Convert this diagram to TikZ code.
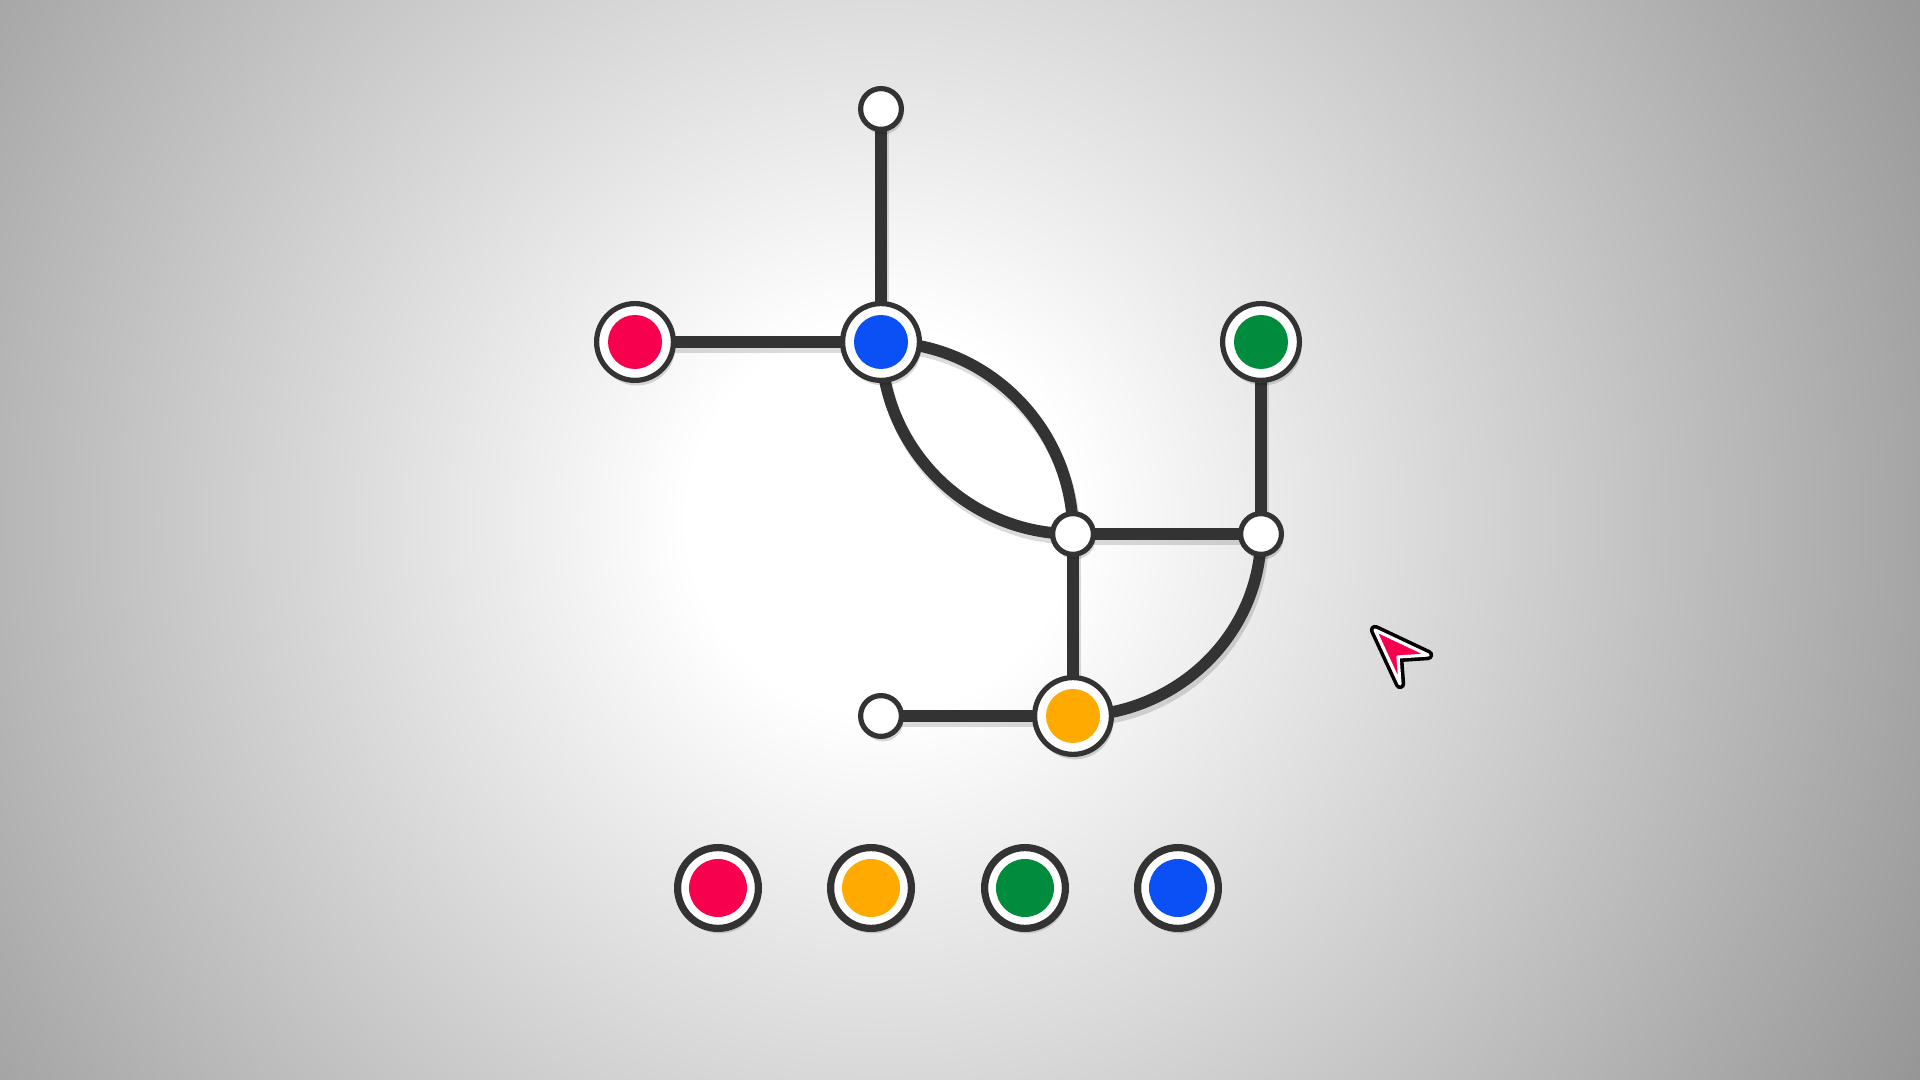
\documentclass[tikz,border=0pt]{standalone}
\usetikzlibrary{shadows}
\pgfdeclarelayer{bg}
\pgfdeclarelayer{shadowl}
\pgfdeclarelayer{edgel}
\pgfsetlayers{bg,shadowl,edgel,main}
\definecolor{ink}{HTML}{333333}
\definecolor{bgedge}{HTML}{969696}
\definecolor{mred}{RGB}{247,0,77}
\definecolor{mblue}{HTML}{0A50F5}
\definecolor{mgreen}{HTML}{008C3C}
\definecolor{morange}{HTML}{FFAA00}
\pgfdeclareradialshading{vign}{\pgfpoint{0bp}{0bp}}{color(0bp)=(white); color(4bp)=(white); color(24.6bp)=(bgedge); color(50bp)=(bgedge)}
\tikzset{
  shad/.style={drop shadow={shadow xshift=1pt, shadow yshift=-2.5pt, fill=black, opacity=0.15}},
  stn/.style={circle, draw=ink, line width=2.6pt, fill=white, minimum size=38.4pt, inner sep=0pt, shad,
    path picture={\fill[#1] (path picture bounding box.center) circle (13.5pt);}},
  jct/.style={circle, draw=ink, line width=2.6pt, fill=white, minimum size=20.4pt, inner sep=0pt, shad},
  swatch/.style={circle, draw=ink, line width=3.6pt, fill=white, minimum size=40.4pt, inner sep=0pt, shad,
    path picture={\fill[#1] (path picture bounding box.center) circle (14.5pt);}},
  track/.style={draw=ink, line width=5.8pt},
  trackshadow/.style={draw=black, opacity=0.14, line width=5.8pt, transform canvas={shift={(1pt,-2.5pt)}}}
}
\newcommand\graphedges[1]{%
  \draw[#1] (top.center) -- (blue.center);
  \draw[#1] (red.center) -- (blue.center);
  \draw[#1] (blue.center) arc[start angle=90, end angle=0, radius=96pt];
  \draw[#1] (blue.center) arc[start angle=180, end angle=270, radius=96pt];
  \draw[#1] (green.center) -- (right.center);
  \draw[#1] (mid.center) -- (right.center);
  \draw[#1] (mid.center) -- (orange.center);
  \draw[#1] (bl.center) -- (orange.center);
  \draw[#1] (right.center) arc[start angle=0, end angle=-90, x radius=94pt, y radius=91pt];
}
\begin{document}
\begin{tikzpicture}[x=0.5pt, y=0.5pt]
\useasboundingbox (0,0) rectangle (1920,1080);
\begin{pgfonlayer}{bg}
  \begin{scope}
    \clip (0,0) rectangle (1920,1080);
    \shade[shading=vign] (-320,-640) rectangle (2080,1760);
  \end{scope}
\end{pgfonlayer}
% graph nodes
\node[jct] (top) at (881,971) {};
\node[stn=mred] (red) at (635,738) {};
\node[stn=mblue] (blue) at (881,738) {};
\node[stn=mgreen] (green) at (1261,738) {};
\node[jct] (mid) at (1073,546) {};
\node[jct] (right) at (1261,546) {};
\node[jct] (bl) at (881,364) {};
\node[stn=morange] (orange) at (1073,364) {};
% edges
\begin{pgfonlayer}{shadowl}
  \graphedges{trackshadow}
\end{pgfonlayer}
\begin{pgfonlayer}{edgel}
  \graphedges{track}
\end{pgfonlayer}
% palette
\node[swatch=mred] (p1) at (718,192) {};
\node[swatch=morange] (p2) at (871,192) {};
\node[swatch=mgreen] (p3) at (1025,192) {};
\node[swatch=mblue] (p4) at (1178,192) {};
% cursor
\fill[black, opacity=0.12, transform canvas={shift={(1pt,-2.5pt)}}] (1375,450) -- (1428,425) -- (1398,423) -- (1400,396) -- cycle;
\draw[black, line width=5.2pt, line join=round] (1375,450) -- (1428,425) -- (1398,423) -- (1400,396) -- cycle;
\draw[white, fill=mred, line width=1.6pt, line join=round] (1375,450) -- (1428,425) -- (1398,423) -- (1400,396) -- cycle;
\end{tikzpicture}
\end{document}
